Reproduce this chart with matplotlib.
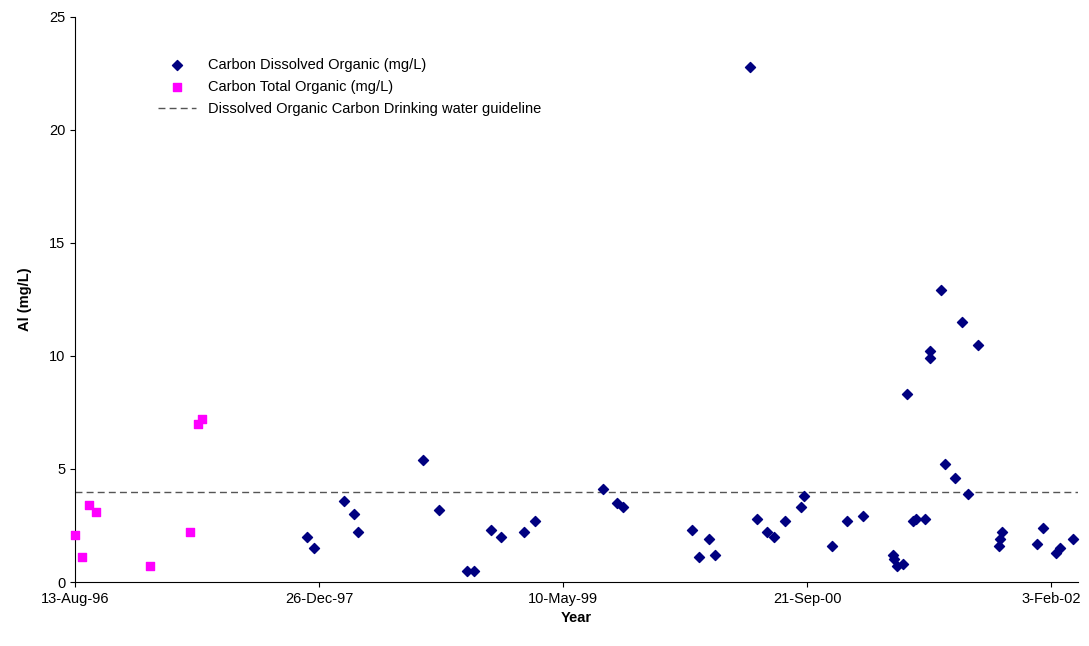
import datetime as dt
import matplotlib
matplotlib.use("Agg")
import matplotlib.pyplot as plt

START = dt.date(1996, 8, 13)

# days since 13-Aug-96
toc_days = [0, 14, 29, 43, 154, 236, 252, 260]
toc_vals = [2.1, 1.1, 3.4, 3.1, 0.7, 2.2, 7.0, 7.2]

doc_days = [475, 490, 551, 572, 580, 713, 746, 803, 818, 852, 873, 920, 943,
            1082, 1110, 1123, 1264, 1279, 1299, 1311, 1383, 1397, 1418, 1432,
            1455, 1488, 1494, 1551, 1582, 1615, 1676, 1678, 1684, 1697, 1705,
            1717, 1723, 1742, 1752, 1752, 1774, 1783, 1803, 1817, 1830, 1850,
            1893, 1895, 1900, 1971, 1983, 2010, 2018, 2045]
doc_vals = [2.0, 1.5, 3.6, 3.0, 2.2, 5.4, 3.2, 0.5, 0.5, 2.3, 2.0, 2.2, 2.7,
            4.1, 3.5, 3.3, 2.3, 1.1, 1.9, 1.2, 22.8, 2.8, 2.2, 2.0,
            2.7, 3.3, 3.8, 1.6, 2.7, 2.9, 1.2, 1.0, 0.7, 0.8, 8.3,
            2.7, 2.8, 2.8, 10.2, 9.9, 12.9, 5.2, 4.6, 11.5, 3.9, 10.5,
            1.6, 1.9, 2.2, 1.7, 2.4, 1.3, 1.5, 1.9]

guideline = 4
tick_days = [0, 500, 1000, 1500, 2000]
tick_labels = ["13-Aug-96", "26-Dec-97", "10-May-99", "21-Sep-00", "3-Feb-02"]


def to_dates(days):
    return [START + dt.timedelta(days=d) for d in days]


plt.rcParams['font.family'] = ['Liberation Sans', 'DejaVu Sans']
fig = plt.figure(figsize=(10.89, 6.46), dpi=100)
ax = fig.add_axes([0.069, 0.099, 0.921, 0.875])

ax.scatter(to_dates(doc_days), doc_vals, marker='D', s=26, color='#000080',
           label="Carbon Dissolved Organic (mg/L)", zorder=3, clip_on=False)
ax.scatter(to_dates(toc_days), toc_vals, marker='s', s=40, color='#FF00FF',
           label="Carbon Total Organic (mg/L)", zorder=3, clip_on=False)
ax.axhline(guideline, color='#555555', linestyle=(0, (5, 3)), linewidth=1,
           label="Dissolved Organic Carbon Drinking water guideline")

ax.set_xlim(START, START + dt.timedelta(days=2055))
ax.set_ylim(0, 25)
ax.set_xticks(to_dates(tick_days))
ax.set_xticklabels(tick_labels)
ax.set_yticks(range(0, 26, 5))
ax.tick_params(labelsize=10.5)
ax.spines['top'].set_visible(False)
ax.spines['right'].set_visible(False)
ax.set_xlabel("Year", fontsize=10.5, fontweight='bold')
ax.set_ylabel("Al (mg/L)", fontsize=10.5, fontweight='bold', labelpad=12)

ax.legend(loc='upper left', bbox_to_anchor=(0.07, 0.95), frameon=False,
          fontsize=10.5, handlelength=2.6, labelspacing=0.55)

fig.savefig("out.png", dpi=100)
